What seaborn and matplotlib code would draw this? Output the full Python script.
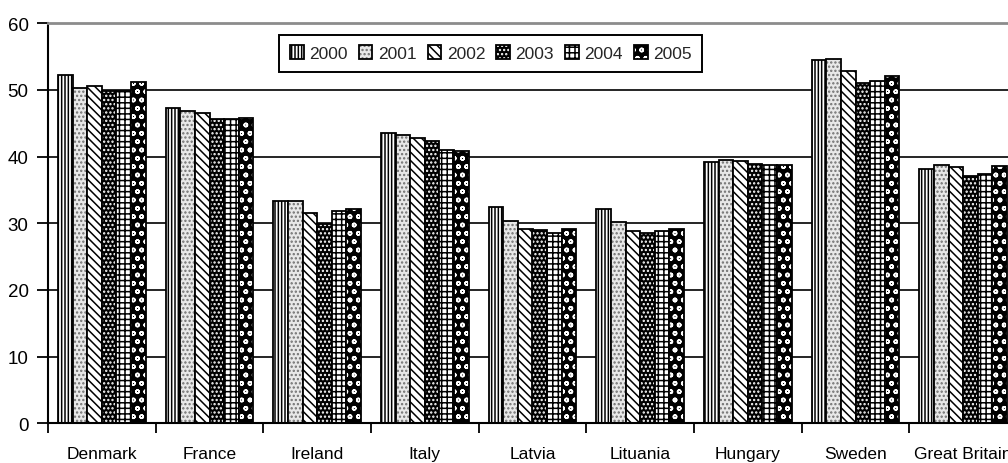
import numpy as np
import pandas as pd
import matplotlib
matplotlib.use("Agg")
import matplotlib.pyplot as plt
import matplotlib.colors as mcolors
import seaborn as sns

countries = ["Denmark", "France", "Ireland", "Italy", "Latvia", "Lituania",
             "Hungary", "Sweden", "Great Britain"]
years = ["2000", "2001", "2002", "2003", "2004", "2005"]

v2000 = [52.2, 47.3, 33.4, 43.6, 32.5, 32.1, 39.2, 54.5, 38.1]
v2001 = [50.3, 46.8, 33.3, 43.2, 30.3, 30.2, 39.5, 54.6, 38.7]
v2002 = [50.6, 46.5, 31.6, 42.8, 29.1, 28.8, 39.3, 52.8, 38.5]
v2003 = [49.8, 45.6, 29.9, 42.4, 29.0, 28.6, 38.9, 51.1, 37.1]
v2004 = [49.8, 45.7, 31.9, 41.0, 28.6, 28.8, 38.7, 51.3, 37.4]
v2005 = [51.2, 45.8, 32.2, 40.8, 29.2, 29.2, 38.7, 52.1, 38.6]

series = [v2000, v2001, v2002, v2003, v2004, v2005]
df = pd.DataFrame({
    "country": np.tile(countries, len(years)),
    "year": np.repeat(years, len(countries)),
    "value": np.concatenate(series),
})

sns.set_theme(style="white")
plt.rcParams["font.family"] = ["Liberation Sans", "DejaVu Sans"]
plt.rcParams["hatch.linewidth"] = 1.1

fig = plt.figure(figsize=(10.08, 4.64), dpi=100)
# plot area runs past the right edge of the canvas
ax = fig.add_axes([48 / 1008, 39.7 / 464, 969 / 1008, 400 / 464])

sns.barplot(data=df, x="country", y="value", hue="year", order=countries,
            hue_order=years, palette=["white"] * 6, saturation=1,
            width=0.817, errorbar=None, legend=False, ax=ax,
            edgecolor="black", linewidth=1.3)

# fill, hatch, hatch colour for each year
styles = {
    "2000": ("white", "|||||", "black"),
    "2001": ("#e8e8e8", "....", "#707070"),
    "2002": ("white", "\\\\\\\\", "black"),
    "2003": ("black", "....", "white"),
    "2004": ("white", "+++", "black"),
    "2005": ("black", "oo", "white"),
}


def style_patch(p, face, hatch, hcolor):
    p.set_facecolor(face)
    p.set_edgecolor("black")
    p.set_linewidth(1.3)
    p.set_hatch(hatch)
    if hasattr(p, "set_hatchcolor"):
        p.set_hatchcolor(hcolor)
    else:
        p._hatch_color = mcolors.to_rgba(hcolor)


handles = []
for year, cont in zip(years, ax.containers):
    face, hatch, hcolor = styles[year]
    for p in cont.patches:
        style_patch(p, face, hatch, hcolor)
    handles.append(cont.patches[0])

ax.set_ylim(0, 60)
ax.set_xlim(-0.5, len(countries) - 0.5)
ax.set_xlabel("")
ax.set_ylabel("")
ax.set_yticks(range(0, 61, 10))
ax.set_axisbelow(True)
ax.yaxis.grid(True, color="black", linewidth=1.2)
ax.xaxis.grid(False)

ax.set_xticks(np.arange(-0.5, len(countries), 1), minor=True)
ax.tick_params(axis="x", which="major", length=0, pad=16, labelsize=12.5,
               labelcolor="black")
ax.tick_params(axis="x", which="minor", length=7, width=1.3, color="black",
               direction="out", bottom=True)
ax.tick_params(axis="y", length=8, width=1.3, color="black", direction="out",
               pad=6, labelsize=13.5, labelcolor="black", left=True)

for side in ("left", "bottom"):
    ax.spines[side].set_color("black")
    ax.spines[side].set_linewidth(1.5)
ax.spines["top"].set_color("#8c8c8c")
ax.spines["top"].set_linewidth(2)
ax.spines["right"].set_visible(False)

leg = ax.legend(handles, years, ncol=6, loc="center",
                bbox_to_anchor=(0.457, 0.925), frameon=True, fancybox=False,
                framealpha=1, edgecolor="black", fontsize=12.5,
                handlelength=0.8, handleheight=0.8, handletextpad=0.3,
                columnspacing=0.65, borderpad=0.6)
leg.get_frame().set_linewidth(1.4)

fig.savefig("out.png", dpi=100)
